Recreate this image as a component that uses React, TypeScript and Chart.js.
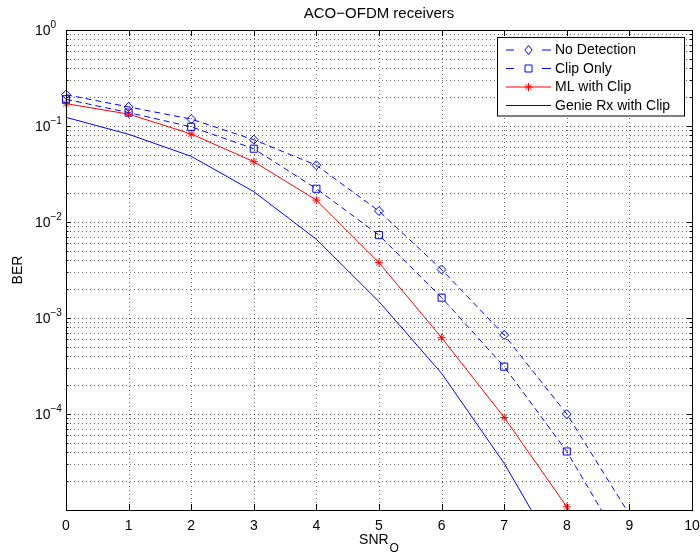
import React, { useEffect, useRef } from 'react';
import { Chart, registerables } from 'chart.js';

Chart.register(...registerables);

// ---- data ----
const snrValues = [0, 1, 2, 3, 4, 5, 6, 7, 8, 9];
const noDetection = [0.212, 0.158, 0.118, 0.072, 0.039, 0.013, 0.0032, 6.65e-4, 1.0e-4, 9e-6];
const clipOnly = [0.19, 0.138, 0.098, 0.058, 0.0222, 0.0073, 0.00163, 3.11e-4, 4.07e-5, 3.2e-6];
const mlWithClip = [0.171, 0.133, 0.0826, 0.0425, 0.0169, 0.00377, 6.24e-4, 9.2e-5, 1.08e-5];
const genieRx = [0.123, 0.082, 0.0483, 0.0207, 0.0066, 0.00148, 2.65e-4, 3.06e-5, 2.3e-6];

const seriesLabels = ['No Detection', 'Clip Only', 'ML with Clip', 'Genie Rx with Clip'];
const xTickValues = [0, 1, 2, 3, 4, 5, 6, 7, 8, 9, 10];
const yLabelExps = [0, -1, -2, -3, -4];
const titleText = 'ACO\u2212OFDM receivers';
const xLabelMain = 'SNR';
const xLabelSub = 'O';
const yLabelText = 'BER';

const X_MIN = 0;
const X_MAX = 10;
const Y_MIN = 1e-5;
const Y_MAX = 1;

const BLUE = '#0000ff';
const RED = '#ff0000';
const FONT = '"Liberation Sans", Arial, Helvetica, sans-serif';

const toPoints = (vals: number[]) => vals.map((v, i) => ({ x: snrValues[i], y: v }));
const visiblePoints = (vals: number[]) => toPoints(vals).filter((p) => p.y >= Y_MIN && p.y <= Y_MAX);

function drawMarker(ctx: CanvasRenderingContext2D, style: string, x: number, y: number, color: string) {
  ctx.save();
  ctx.strokeStyle = color;
  ctx.lineWidth = 1;
  ctx.setLineDash([]);
  ctx.beginPath();
  if (style === 'diamond') {
    const r = 4.5;
    ctx.moveTo(x, y - r);
    ctx.lineTo(x + r * 0.8, y);
    ctx.lineTo(x, y + r);
    ctx.lineTo(x - r * 0.8, y);
    ctx.closePath();
  } else if (style === 'square') {
    const s = 3.5;
    ctx.rect(x - s, y - s, 2 * s, 2 * s);
  } else if (style === 'star') {
    const r = 4;
    const d = r * Math.SQRT1_2;
    ctx.moveTo(x - r, y); ctx.lineTo(x + r, y);
    ctx.moveTo(x, y - r); ctx.lineTo(x, y + r);
    ctx.moveTo(x - d, y - d); ctx.lineTo(x + d, y + d);
    ctx.moveTo(x - d, y + d); ctx.lineTo(x + d, y - d);
  }
  ctx.stroke();
  ctx.restore();
}

const matlabPlugin = {
  id: 'matlabStyle',
  beforeDatasetsDraw(chart: any) {
    const { ctx, chartArea: a, scales } = chart;
    const xs = scales.x;
    const ys = scales.y;
    ctx.save();
    ctx.strokeStyle = 'rgba(0,0,0,0.6)';
    ctx.lineWidth = 1;
    ctx.setLineDash([1, 3]);
    // horizontal grid (major + minor)
    for (let e = -5; e <= 0; e++) {
      for (let m = 1; m <= 9; m++) {
        const v = m * Math.pow(10, e);
        if (v < Y_MIN || v > Y_MAX) continue;
        const y = Math.round(ys.getPixelForValue(v)) + 0.5;
        ctx.beginPath();
        ctx.moveTo(a.left, y);
        ctx.lineTo(a.right, y);
        ctx.stroke();
      }
    }
    // vertical grid
    for (const t of xTickValues) {
      const x = Math.round(xs.getPixelForValue(t)) + 0.5;
      ctx.beginPath();
      ctx.moveTo(x, a.top);
      ctx.lineTo(x, a.bottom);
      ctx.stroke();
    }
    ctx.restore();
  },
  afterDatasetsDraw(chart: any) {
    const { ctx, chartArea: a, scales } = chart;
    const xs = scales.x;
    const ys = scales.y;
    ctx.save();
    ctx.setLineDash([]);
    ctx.strokeStyle = '#000';
    ctx.lineWidth = 1;
    // box
    ctx.strokeRect(Math.round(a.left) + 0.5, Math.round(a.top) + 0.5, Math.round(a.right - a.left), Math.round(a.bottom - a.top));
    // y tick marks (inside, left and right)
    for (let e = -5; e <= 0; e++) {
      for (let m = 1; m <= 9; m++) {
        const v = m * Math.pow(10, e);
        if (v < Y_MIN || v > Y_MAX) continue;
        const len = m === 1 ? 5 : 2.5;
        const y = Math.round(ys.getPixelForValue(v)) + 0.5;
        ctx.beginPath();
        ctx.moveTo(a.left, y); ctx.lineTo(a.left + len, y);
        ctx.moveTo(a.right, y); ctx.lineTo(a.right - len, y);
        ctx.stroke();
      }
    }
    // x tick marks
    for (const t of xTickValues) {
      const x = Math.round(xs.getPixelForValue(t)) + 0.5;
      ctx.beginPath();
      ctx.moveTo(x, a.bottom); ctx.lineTo(x, a.bottom - 6);
      ctx.moveTo(x, a.top); ctx.lineTo(x, a.top + 6);
      ctx.stroke();
    }
    // x tick labels
    ctx.fillStyle = '#000';
    ctx.font = `14px ${FONT}`;
    ctx.textAlign = 'center';
    ctx.textBaseline = 'alphabetic';
    for (const t of xTickValues) {
      ctx.fillText(String(t), xs.getPixelForValue(t), a.bottom + 20);
    }
    // y tick labels 10^e
    for (const e of yLabelExps) {
      const y = ys.getPixelForValue(Math.pow(10, e));
      ctx.font = `14px ${FONT}`;
      ctx.textAlign = 'left';
      ctx.textBaseline = 'middle';
      ctx.fillText('10', 35, y + 1);
      ctx.font = `10px ${FONT}`;
      ctx.fillText(e === 0 ? '0' : '\u2212' + String(-e), 50.5, y - 5);
    }
    // title
    ctx.font = `15px ${FONT}`;
    ctx.textAlign = 'center';
    ctx.textBaseline = 'alphabetic';
    const cx = (a.left + a.right) / 2;
    ctx.fillText(titleText, cx, 18);
    // x label with subscript
    ctx.font = `14px ${FONT}`;
    const wMain = ctx.measureText(xLabelMain).width;
    ctx.font = `12px ${FONT}`;
    const wSub = ctx.measureText(xLabelSub).width;
    const startX = cx - (wMain + wSub + 1) / 2;
    ctx.textAlign = 'left';
    ctx.font = `14px ${FONT}`;
    ctx.fillText(xLabelMain, startX, 544);
    ctx.font = `12px ${FONT}`;
    ctx.fillText(xLabelSub, startX + wMain + 1, 551.5);
    // y label
    ctx.save();
    ctx.translate(18, (a.top + a.bottom) / 2);
    ctx.rotate(-Math.PI / 2);
    ctx.font = `14px ${FONT}`;
    ctx.textAlign = 'center';
    ctx.textBaseline = 'middle';
    ctx.fillText(yLabelText, 0, 0);
    ctx.restore();

    // legend
    const lx = 497.5, ly = 37.5, lw = 187, lh = 78.5;
    ctx.fillStyle = '#fff';
    ctx.fillRect(lx, ly, lw, lh);
    ctx.strokeStyle = '#000';
    ctx.lineWidth = 1;
    ctx.strokeRect(lx, ly, lw, lh);
    const rowsY = [50, 68.5, 87, 105.5];
    const entries = [
      { color: BLUE, dashed: true, marker: 'diamond' },
      { color: BLUE, dashed: true, marker: 'square' },
      { color: RED, dashed: false, marker: 'star' },
      { color: BLUE, dashed: false, marker: '' },
    ];
    entries.forEach((en, i) => {
      const y = rowsY[i];
      ctx.strokeStyle = en.color;
      ctx.lineWidth = 1;
      ctx.setLineDash([]);
      ctx.beginPath();
      if (en.dashed) {
        ctx.moveTo(506, y); ctx.lineTo(514, y);
        ctx.moveTo(542, y); ctx.lineTo(551, y);
      } else {
        ctx.moveTo(506, y); ctx.lineTo(551, y);
      }
      ctx.stroke();
      if (en.marker) drawMarker(ctx, en.marker, 528.5, y, en.color);
      ctx.fillStyle = '#000';
      ctx.font = `14px ${FONT}`;
      ctx.textAlign = 'left';
      ctx.textBaseline = 'middle';
      ctx.fillText(seriesLabels[i], 555, y + 0.5);
    });
    ctx.restore();
  },
};

export default function App() {
  const canvasRef = useRef<HTMLCanvasElement | null>(null);

  useEffect(() => {
    const canvas = canvasRef.current;
    if (!canvas) return;
    const lineBase = { borderWidth: 1, pointRadius: 0, tension: 0, fill: false };
    const markerBase = { showLine: false, clip: false as any, pointBorderWidth: 1, pointBackgroundColor: 'rgba(0,0,0,0)' };
    const chart = new Chart(canvas, {
      type: 'line',
      data: {
        datasets: [
          { ...lineBase, label: seriesLabels[0], data: toPoints(noDetection), borderColor: BLUE, borderDash: [6, 4] },
          { ...lineBase, label: seriesLabels[1], data: toPoints(clipOnly), borderColor: BLUE, borderDash: [6, 4] },
          { ...lineBase, label: seriesLabels[2], data: toPoints(mlWithClip), borderColor: RED },
          { ...lineBase, label: seriesLabels[3], data: toPoints(genieRx), borderColor: BLUE },
          { ...markerBase, label: seriesLabels[0] + ' markers', data: visiblePoints(noDetection), pointStyle: 'rectRot', pointRadius: 4.5, pointBorderColor: BLUE, borderColor: BLUE },
          { ...markerBase, label: seriesLabels[1] + ' markers', data: visiblePoints(clipOnly), pointStyle: 'rect', pointRadius: 5, pointBorderColor: BLUE, borderColor: BLUE },
          { ...markerBase, label: seriesLabels[2] + ' markers', data: visiblePoints(mlWithClip), pointStyle: 'star', pointRadius: 4, pointBorderColor: RED, borderColor: RED },
        ] as any,
      },
      options: {
        animation: false,
        responsive: false,
        devicePixelRatio: 1,
        parsing: false as any,
        layout: { padding: { left: 0, right: 8, top: 30, bottom: 0 } },
        plugins: { legend: { display: false }, title: { display: false }, tooltip: { enabled: false } },
        events: [],
        scales: {
          x: {
            type: 'linear',
            min: X_MIN,
            max: X_MAX,
            grid: { display: false },
            border: { display: false },
            ticks: { display: false },
            afterFit: (s: any) => { s.height = 44; },
          },
          y: {
            type: 'logarithmic',
            min: Y_MIN,
            max: Y_MAX,
            grid: { display: false },
            border: { display: false },
            ticks: { display: false },
            afterFit: (s: any) => { s.width = 66; },
          },
        },
      },
      plugins: [matlabPlugin],
    });
    return () => chart.destroy();
  }, []);

  return (
    <canvas
      ref={canvasRef}
      width={700}
      height={554}
      style={{ position: 'fixed', left: 0, top: 0, background: '#fff' }}
    />
  );
}
